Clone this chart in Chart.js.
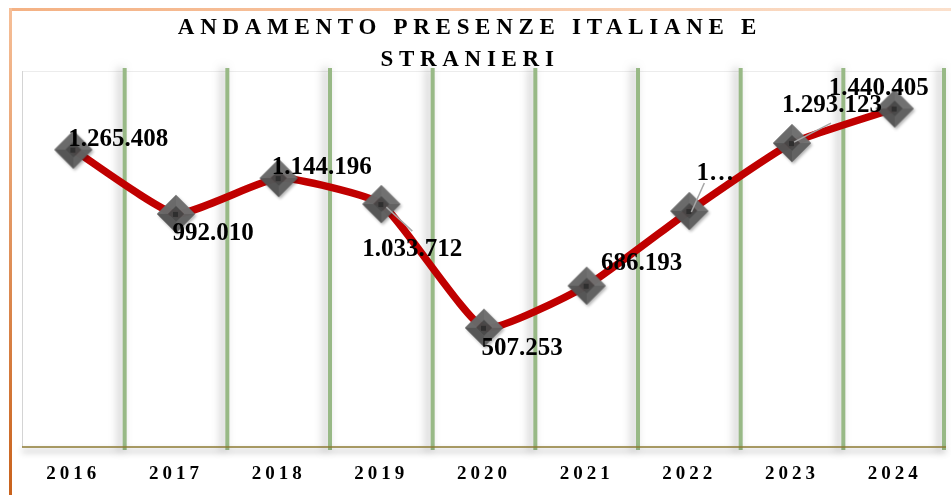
<!DOCTYPE html>
<html>
<head>
<meta charset="utf-8">
<script src="https://cdn.jsdelivr.net/npm/chart.js@4.4.1/dist/chart.umd.min.js"></script>
<style>
    html, body { margin: 0; padding: 0; background: #fff; }
    #wrap { width: 951px; height: 495px; position: relative; }
</style>
</head>
<body>
<div id="wrap"><canvas id="chart" width="951" height="495"></canvas></div>
<script>
// data
const years = ['2016', '2017', '2018', '2019', '2020', '2021', '2022', '2023', '2024'];
const presenze = [1265408, 992010, 1144196, 1033712, 507253, 686193, 1004000, 1293123, 1440405];
const titleLines = ['ANDAMENTO PRESENZE ITALIANE E', 'STRANIERI'];
const yMin = 0;
const yMax = 1600000;
// the 2022 label is cut short in the original
const truncatedLabels = { 6: '1\u2026' };

// label placement (px from the point) and leader lines
const labelOffsets = [[45, -10], [37, 20], [43, -11], [31, 45], [38, 21], [55, -22], [26, -38], [40, -38], [-16, -20]];
const leaders = { 3: [[5, 3], [31, 27]], 6: [[2, 1], [15, -28]], 7: [[2, -1], [39, -20]] };

const serif = '"Liberation Serif", "Times New Roman", "DejaVu Serif", serif';

function fmt(n) {
    return String(n).replace(/\B(?=(\d{3})+(?!\d))/g, '.');
}

function makeMarker() {
    const c = document.createElement('canvas');
    c.width = 46; c.height = 46;
    const g = c.getContext('2d');
    const cx = 23, cy = 23, r = 19, ri = 8;
    const dia = (rad) => {
        g.beginPath();
        g.moveTo(cx, cy - rad); g.lineTo(cx + rad, cy); g.lineTo(cx, cy + rad); g.lineTo(cx - rad, cy);
        g.closePath();
    };
    g.globalAlpha = 0.85;
    g.save();
    g.shadowColor = 'rgba(0,0,0,0.35)';
    g.shadowBlur = 3;
    g.shadowOffsetX = 1.5;
    g.shadowOffsetY = 2;
    dia(r);
    g.fillStyle = '#626262';
    g.fill();
    g.restore();
    // bevel facets
    const o = [[cx, cy - r], [cx + r, cy], [cx, cy + r], [cx - r, cy]];
    const i = [[cx, cy - ri], [cx + ri, cy], [cx, cy + ri], [cx - ri, cy]];
    const cols = ['#727272', '#606060', '#525252', '#6a6a6a'];
    for (let k = 0; k < 4; k++) {
        const n = (k + 1) % 4;
        g.beginPath();
        g.moveTo(o[k][0], o[k][1]); g.lineTo(o[n][0], o[n][1]);
        g.lineTo(i[n][0], i[n][1]); g.lineTo(i[k][0], i[k][1]);
        g.closePath();
        g.fillStyle = cols[k];
        g.fill();
    }
    dia(ri);
    g.fillStyle = '#444444';
    g.fill();
    g.fillStyle = '#2b2b2b';
    g.fillRect(cx - 3, cy - 2, 5, 5);
    return c;
}

const framePlugin = {
    id: 'frame',
    beforeDraw(chart) {
        const ctx = chart.ctx;
        const a = chart.chartArea;
        const xs = chart.scales.x;
        ctx.save();
        ctx.fillStyle = '#ffffff';
        ctx.fillRect(0, 0, chart.width, chart.height);
        // orange outer border
        const tg = ctx.createLinearGradient(0, 0, chart.width, 0);
        tg.addColorStop(0, '#f4b183');
        tg.addColorStop(1, '#fbe0cc');
        ctx.fillStyle = tg;
        ctx.fillRect(9, 8, chart.width - 9, 3);
        const lg = ctx.createLinearGradient(0, 8, 0, chart.height);
        lg.addColorStop(0, '#f6bf98');
        lg.addColorStop(1, '#c9621c');
        ctx.fillStyle = lg;
        ctx.fillRect(9, 8, 3, chart.height - 8);

        // plot area edges
        ctx.strokeStyle = '#ececec';
        ctx.lineWidth = 1;
        ctx.beginPath();
        ctx.moveTo(a.left, a.top + 0.5); ctx.lineTo(a.right, a.top + 0.5);
        ctx.stroke();
        ctx.strokeStyle = '#d4d4d4';
        ctx.beginPath();
        ctx.moveTo(a.left + 0.5, a.top); ctx.lineTo(a.left + 0.5, a.bottom);
        ctx.stroke();

        // green category separators with a soft shadow to the left
        const bounds = [];
        for (let k = 0; k < years.length - 1; k++) {
            bounds.push((xs.getPixelForValue(k) + xs.getPixelForValue(k + 1)) / 2);
        }
        bounds.push(a.right - 2);
        ctx.shadowColor = 'rgba(0,0,0,0.28)';
        ctx.shadowBlur = 8;
        ctx.shadowOffsetX = -4;
        ctx.shadowOffsetY = 0;
        ctx.fillStyle = '#98b986';
        bounds.forEach(x => {
            ctx.fillRect(x - 2, a.top - 3, 4, a.bottom - a.top + 6);
        });

        // x axis line
        ctx.shadowColor = 'rgba(0,0,0,0.45)';
        ctx.shadowBlur = 6;
        ctx.shadowOffsetX = 0;
        ctx.shadowOffsetY = 4;
        ctx.strokeStyle = '#8c7a32';
        ctx.lineWidth = 1.5;
        ctx.beginPath();
        ctx.moveTo(a.left, a.bottom); ctx.lineTo(a.right, a.bottom);
        ctx.stroke();
        ctx.restore();

        // spaced tick labels, reset before the datasets
        ctx.letterSpacing = '4px';
    },
    beforeDatasetsDraw(chart) {
        chart.ctx.letterSpacing = '0px';
    }
};

const labelPlugin = {
    id: 'labels',
    afterDatasetsDraw(chart) {
        const ctx = chart.ctx;
        const meta = chart.getDatasetMeta(0);
        ctx.save();
        // leader lines
        ctx.strokeStyle = '#a6a6a6';
        ctx.lineWidth = 1.5;
        Object.keys(leaders).forEach(k => {
            const p = meta.data[k];
            const l = leaders[k];
            ctx.beginPath();
            ctx.moveTo(p.x + l[0][0], p.y + l[0][1]);
            ctx.lineTo(p.x + l[1][0], p.y + l[1][1]);
            ctx.stroke();
        });
        ctx.font = 'bold 25px ' + serif;
        ctx.fillStyle = '#000000';
        ctx.textAlign = 'center';
        ctx.textBaseline = 'middle';
        meta.data.forEach((p, k) => {
            const txt = truncatedLabels[k] || fmt(presenze[k]);
            ctx.fillText(txt, p.x + labelOffsets[k][0], p.y + labelOffsets[k][1]);
        });
        ctx.restore();
    },
    afterDraw(chart) {
        const ctx = chart.ctx;
        ctx.save();
        ctx.font = 'bold 23px ' + serif;
        ctx.letterSpacing = '5.7px';
        ctx.fillStyle = '#000000';
        ctx.textAlign = 'center';
        ctx.textBaseline = 'middle';
        ctx.fillText(titleLines[0], 470, 28.5);
        ctx.fillText(titleLines[1], 470, 60);
        ctx.restore();
    }
};

const canvas = document.getElementById('chart');
new Chart(canvas, {
    type: 'line',
    data: {
        labels: years,
        datasets: [{
            label: 'Presenze',
            data: presenze,
            borderColor: '#c00000',
            borderWidth: 7.5,
            tension: 0.15,
            pointStyle: makeMarker(),
            pointRadius: 19,
            pointHoverRadius: 19
        }]
    },
    options: {
        responsive: false,
        animation: false,
        devicePixelRatio: 1,
        layout: {
            autoPadding: false,
            padding: { left: 22, right: 5, top: 71, bottom: 9 }
        },
        scales: {
            x: {
                offset: true,
                grid: { display: false, drawTicks: false },
                border: { display: false },
                ticks: {
                    color: '#000000',
                    padding: 16,
                    maxRotation: 0,
                    font: { family: serif, size: 19, weight: 'bold' }
                },
                afterFit(scale) {
                    scale.height = 39;
                }
            },
            y: {
                display: false,
                min: yMin,
                max: yMax
            }
        },
        plugins: {
            legend: { display: false },
            title: { display: false },
            tooltip: { enabled: false }
        }
    },
    plugins: [framePlugin, labelPlugin]
});
</script>
</body>
</html>
